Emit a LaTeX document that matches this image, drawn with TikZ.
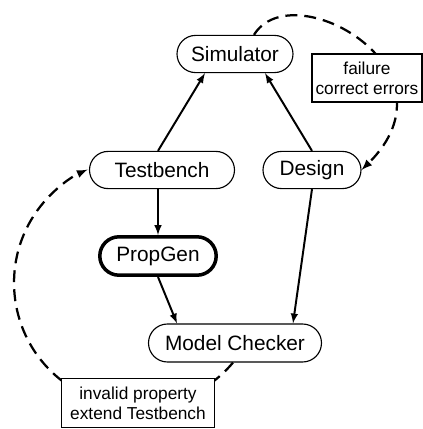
\documentclass[tikz,border=0pt]{standalone}
\usepackage{fontspec}
\setmainfont{Liberation Sans}
\usepackage{tikz}
\usetikzlibrary{arrows, shapes.misc}

\begin{document}
\begin{tikzpicture}[
		block/.style={draw, rounded rectangle, line width=0.8pt, inner sep=0pt, minimum height=0.93cm, font=\fontsize{14.8}{17}\selectfont},
		note/.style={draw, rectangle, fill=white, line width=0.8pt, inner sep=0pt, align=center, font=\fontsize{12.3}{14.4}\selectfont},
		flow/.style={line width=1.4pt, >=latex, ->},
		loop/.style={line width=1.6pt, dash pattern=on 8.5pt off 5pt, >=latex, ->}
	]
	\useasboundingbox (0,0) rectangle (10.575,10.725);

	\node[block, minimum width=2.9cm] (sim) at (5.875, 9.375) {Simulator};
	\node[block, minimum width=3.625cm] (tb) at (4.05, 6.475) {Testbench};
	\node[block, minimum width=2.45cm] (des) at (7.8, 6.475) {Design};
	\node[block, line width=2.5pt, minimum width=2.91cm, minimum height=0.96cm] (pg) at (3.95, 4.325) {PropGen};
	\node[block, minimum width=4.325cm, minimum height=0.95cm] (mc) at (5.875, 2.15) {Model Checker};

	\draw[flow] ([xshift=-0.1cm]tb.north) -- ([xshift=-0.75cm]sim.south);
	\draw[flow] (des.north) -- ([xshift=0.75cm]sim.south);
	\draw[flow] ([xshift=-0.1cm]tb.south) -- (pg.north);
	\draw[flow] (pg.south) -- ([xshift=-1.45cm]mc.north);
	\draw[flow] (des.south) -- ([xshift=1.45cm]mc.north);

	% feedback loops, drawn under the notes
	\draw[loop] ([xshift=0.475cm]sim.north) .. controls (7.3,11.4) and (11.6,9.0) .. (des.east);
	\draw[loop] ([xshift=-0.05cm]mc.south) arc (-40:-246:3.1cm);

	\node[note, minimum width=2.75cm, minimum height=1.2cm] (fail) at (9.175, 8.775) {failure\\correct errors};
	\node[note, minimum width=3.825cm, minimum height=1.225cm] (inv) at (3.45, 0.65) {invalid property\\extend Testbench};
\end{tikzpicture}
\end{document}
